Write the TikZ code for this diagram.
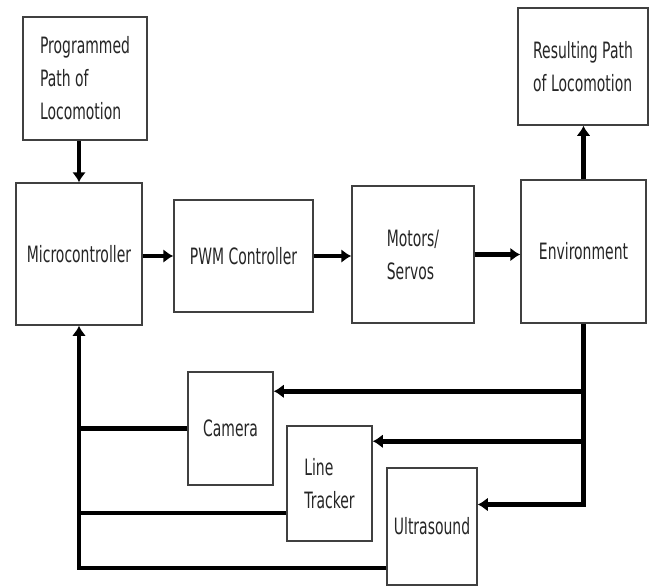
\documentclass[tikz,border=0pt]{standalone}
\usepackage{fontspec}
\setmainfont{DejaVu Sans}[FakeStretch=0.62]
\usetikzlibrary{arrows.meta}

\begin{document}
\begin{tikzpicture}[x=1pt,y=-1pt,
  blk/.style={draw=black!75,line width=1.5pt,text=black!85,inner sep=0pt,
    font=\fontsize{22.5}{33}\selectfont},
  link/.style={line width=4.5pt,-{Latex[length=10pt,width=14pt]}},
  wire/.style={line width=4.5pt}]
\useasboundingbox (0,0) rectangle (652,587);
% top row
\node[blk,minimum width=124pt,minimum height=123pt,align=left] (prog) at (85,78.5) {Programmed\\Path of\\Locomotion};
\node[blk,minimum width=130pt,minimum height=117pt,align=left] (result) at (583,66.5) {Resulting Path\\of Locomotion};
% main chain
\node[blk,minimum width=126pt,minimum height=142pt] (micro) at (79,254) {Microcontroller};
\node[blk,minimum width=139pt,minimum height=112pt] (pwm) at (243.5,256) {PWM Controller};
\node[blk,minimum width=122pt,minimum height=137pt,align=left] (motors) at (413,254.5) {Motors/\\Servos};
\node[blk,minimum width=125pt,minimum height=143pt] (env) at (583.5,251.5) {Environment};
% sensors
\node[blk,minimum width=85pt,minimum height=113pt] (camera) at (230.5,428.5) {Camera};
\node[blk,minimum width=85pt,minimum height=115pt,align=left] (tracker) at (329.5,483.5) {Line\\Tracker};
\node[blk,minimum width=90pt,minimum height=117pt] (ultra) at (432,526.5) {Ultrasound};

\draw[link] (prog.south -| micro.north) -- (micro.north);
\draw[link] (micro.east |- pwm.west) -- (pwm.west);
\draw[link] (pwm.east) -- (pwm.east -| motors.west);
\draw[link] (motors.east) -- (motors.east -| env.west);
\draw[link] (env.north) -- (env.north |- result.south);

% feedback from environment
\draw[link] (env.south) |- ([yshift=22pt]ultra.east);
\draw[link] ([yshift=-20pt]camera.north east -| env.south) -- ([yshift=-20pt]camera.north east);
\draw[link] ([yshift=-16pt]tracker.north east -| env.south) -- ([yshift=-16pt]tracker.north east);

% sensors back to microcontroller
\draw[wire] (camera.west) -- (camera.west -| micro.south);
\draw[wire] ([yshift=29pt]tracker.south west) -- ([yshift=29pt]tracker.south west -| micro.south);
\draw[link] ([yshift=18pt]ultra.south west) -| (micro.south);
\end{tikzpicture}
\end{document}
